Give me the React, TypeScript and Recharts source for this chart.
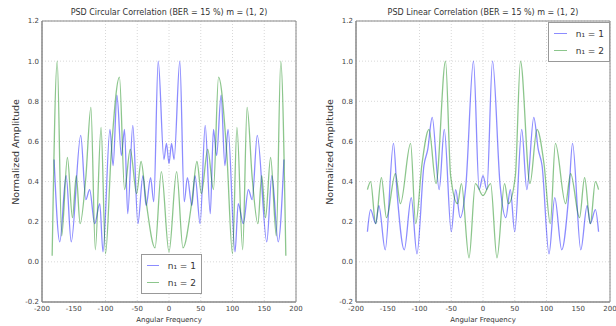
import React from 'react';
import { LineChart, Line, XAxis, YAxis, CartesianGrid, ReferenceArea, Legend } from 'recharts';

// axis ticks shared by both panels
const xTicks = [-200, -150, -100, -50, 0, 50, 100, 150, 200];
const yTicks = [-0.2, 0, 0.2, 0.4, 0.6, 0.8, 1.0, 1.2];

// circular correlation, n1 = 1 (peaks/troughs)
const circFreqN1 = [
  -181, -172, -162, -154, -139, -131, -125, -117, -109, -104, -93, -88, -82, -75, -70, -65, -57, -49, -41, -36, -29, -24,
  -17, -8, -4, 0, 4, 8, 17, 24, 29, 36, 41, 49, 57, 65, 70, 75, 82, 88, 93, 104, 109, 117, 125, 131, 139, 154, 162, 172, 181,
];
const circAmpN1 = [
  0.51, 0.1, 0.43, 0.1, 0.63, 0.31, 0.36, 0.19, 0.29, 0.05, 0.66, 0.48, 0.83, 0.53, 0.66, 0.24, 0.68, 0.19, 0.43, 0.28, 0.42, 0.3,
  1.0, 0.51, 0.59, 0.49, 0.59, 0.51, 1.0, 0.3, 0.42, 0.28, 0.43, 0.19, 0.68, 0.24, 0.66, 0.53, 0.83, 0.48, 0.66, 0.05, 0.29, 0.19,
  0.36, 0.31, 0.63, 0.1, 0.43, 0.1, 0.51,
];

// circular correlation, n1 = 2
const circFreqN2 = [
  -184, -176, -169, -160, -152, -146, -140, -131, -123, -116, -107, -100, -91, -78, -70, -61, -51, -44, -36, -22, -12, 0, 12, 22,
  36, 44, 51, 61, 70, 78, 91, 100, 107, 116, 123, 131, 140, 146, 152, 160, 169, 176, 184,
];
const circAmpN2 = [
  0.03, 1.0, 0.13, 0.52, 0.22, 0.43, 0.19, 0.42, 0.77, 0.06, 0.67, 0.04, 0.54, 0.92, 0.36, 0.56, 0.34, 0.5, 0.3, 0.07, 0.45, 0.05,
  0.45, 0.07, 0.3, 0.5, 0.34, 0.56, 0.36, 0.92, 0.54, 0.04, 0.67, 0.06, 0.77, 0.42, 0.19, 0.43, 0.22, 0.52, 0.13, 1.0, 0.03,
];

// linear correlation, n1 = 1
const linFreqN1 = [
  -182, -177, -169, -164, -154, -141, -135, -124, -113, -104, -93, -87, -80, -69, -61, -50, -43, -36, -27, -15, -6, 0, 6, 15,
  27, 36, 43, 50, 61, 69, 80, 87, 93, 104, 113, 124, 135, 141, 154, 164, 169, 177, 182,
];
const linAmpN1 = [
  0.15, 0.26, 0.19, 0.28, 0.06, 0.59, 0.33, 0.06, 0.32, 0.04, 0.48, 0.56, 0.72, 0.36, 0.66, 0.15, 0.36, 0.22, 0.38, 1.0, 0.36,
  0.43, 0.36, 1.0, 0.38, 0.22, 0.36, 0.15, 0.66, 0.36, 0.72, 0.56, 0.48, 0.04, 0.32, 0.06, 0.33, 0.59, 0.06, 0.28, 0.19, 0.26, 0.15,
];

// linear correlation, n1 = 2
const linFreqN2 = [
  -182, -177, -169, -160, -152, -138, -130, -114, -106, -96, -85, -74, -59, -51, -40, -34, -22, -12, 0, 12, 22, 34, 40, 51, 59,
  74, 85, 96, 106, 114, 130, 138, 152, 160, 169, 177, 182,
];
const linAmpN2 = [
  0.36, 0.4, 0.19, 0.42, 0.22, 0.44, 0.29, 0.59, 0.19, 0.49, 0.66, 0.39, 1.0, 0.43, 0.29, 0.39, 0.02, 0.39, 0.33, 0.39, 0.02, 0.39,
  0.29, 0.43, 1.0, 0.39, 0.66, 0.49, 0.19, 0.59, 0.29, 0.44, 0.22, 0.42, 0.19, 0.4, 0.36,
];

const seriesNames = ['n\u2081 = 1', 'n\u2081 = 2'];

const FONT = '"DejaVu Sans", sans-serif';
const BLUE = '#0000ff';
const GREEN = '#008000';

const zip = (f: number[], a: number[]) => f.map((x, i) => ({ f: x, v: a[i] }));

function LegendBox() {
  const rows = [
    { name: seriesNames[0], color: BLUE },
    { name: seriesNames[1], color: GREEN },
  ];
  return (
    <div
      style={{
        border: '1px solid #999',
        background: '#fff',
        padding: '2px 5px',
        fontFamily: FONT,
        fontSize: 9,
        color: '#333',
        boxSizing: 'border-box',
        whiteSpace: 'nowrap',
      }}
    >
      {rows.map((r) => (
        <div key={r.name} style={{ display: 'flex', alignItems: 'center', height: 17 }}>
          <span
            style={{
              display: 'inline-block',
              width: 13,
              height: 0,
              borderTop: `1.5px solid ${r.color}`,
              opacity: 0.45,
              marginRight: 9,
            }}
          />
          <span>{r.name}</span>
        </div>
      ))}
    </div>
  );
}

interface PanelProps {
  title: string;
  left: number;
  marginLeft: number;
  marginRight: number;
  d1: { f: number; v: number }[];
  d2: { f: number; v: number }[];
  legendStyle: React.CSSProperties;
  labelX: number;
}

function Panel({ title, left, marginLeft, marginRight, d1, d2, legendStyle, labelX }: PanelProps) {
  const plotLeft = marginLeft + 30;
  const plotRight = 308 - marginRight;
  const cx = (plotLeft + plotRight) / 2;
  const tick = { fill: '#444', fontSize: 7, fontFamily: FONT };
  return (
    <div style={{ position: 'absolute', left, top: 0, width: 308, height: 326 }}>
      <div
        style={{
          position: 'absolute',
          left: cx,
          top: 12,
          transform: 'translate(-50%, -50%)',
          whiteSpace: 'nowrap',
          fontFamily: FONT,
          fontSize: 8,
          color: '#333',
        }}
      >
        {title}
      </div>
      <div
        style={{
          position: 'absolute',
          left: cx,
          top: 320,
          transform: 'translate(-50%, -50%)',
          whiteSpace: 'nowrap',
          fontFamily: FONT,
          fontSize: 7,
          color: '#333',
        }}
      >
        Angular Frequency
      </div>
      <div
        style={{
          position: 'absolute',
          left: labelX,
          top: 152,
          transform: 'translate(-50%, -50%) rotate(-90deg)',
          whiteSpace: 'nowrap',
          fontFamily: FONT,
          fontSize: 9.5,
          color: '#333',
        }}
      >
        Normalized Amplitude
      </div>
      <LineChart width={308} height={326} margin={{ top: 21, right: marginRight, bottom: 0, left: marginLeft }}>
        <CartesianGrid stroke="#d8d8d8" strokeDasharray="1 2" />
        <XAxis
          type="number"
          dataKey="f"
          domain={[-200, 200]}
          ticks={xTicks}
          allowDataOverflow
          height={24}
          tick={tick}
          tickSize={0}
          tickMargin={4}
          stroke="#888"
        />
        <YAxis
          type="number"
          dataKey="v"
          domain={[-0.2, 1.2]}
          ticks={yTicks}
          allowDataOverflow
          width={30}
          tick={tick}
          tickSize={0}
          tickMargin={3}
          tickFormatter={(v: number) => v.toFixed(1)}
          stroke="#888"
        />
        <ReferenceArea x1={-200} x2={200} y1={-0.2} y2={1.2} fill="none" stroke="#888" strokeWidth={1} />
        <Line
          data={d1}
          dataKey="v"
          name={seriesNames[0]}
          type="monotone"
          stroke={BLUE}
          strokeOpacity={0.45}
          strokeWidth={1.3}
          dot={false}
          isAnimationActive={false}
        />
        <Line
          data={d2}
          dataKey="v"
          name={seriesNames[1]}
          type="monotone"
          stroke={GREEN}
          strokeOpacity={0.45}
          strokeWidth={1.3}
          dot={false}
          isAnimationActive={false}
        />
        <Legend
          layout="horizontal"
          verticalAlign="middle"
          align="center"
          content={<LegendBox />}
          wrapperStyle={{ position: 'absolute', bottom: 'auto', ...legendStyle }}
        />
      </LineChart>
    </div>
  );
}

export default function App() {
  return (
    <div style={{ position: 'absolute', left: 0, top: 0, width: 616, height: 326, background: '#fff' }}>
      <Panel
        title="PSD Circular Correlation (BER = 15 %) m = (1, 2)"
        left={0}
        marginLeft={12}
        marginRight={12}
        d1={zip(circFreqN1, circAmpN1)}
        d2={zip(circFreqN2, circAmpN2)}
        legendStyle={{ left: 141, top: 254, width: 61 }}
        labelX={15}
      />
      <Panel
        title="PSD Linear Correlation (BER = 15 %) m = (1, 2)"
        left={308}
        marginLeft={18}
        marginRight={6}
        d1={zip(linFreqN1, linAmpN1)}
        d2={zip(linFreqN2, linAmpN2)}
        legendStyle={{ left: 240, top: 22, width: 62 }}
        labelX={21}
      />
    </div>
  );
}
